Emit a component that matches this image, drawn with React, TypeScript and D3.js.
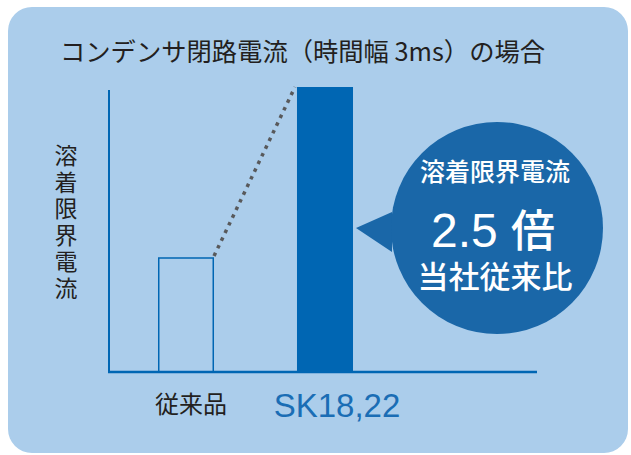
import React from "react";
import * as d3 from "d3";

const categories = ["従来品", "SK18,22"];
const values = [1, 2.5];
const title = "コンデンサ閉路電流（時間幅 3ms）の場合";
const yLabel = "溶着限界電流";
const calloutLines = ["溶着限界電流", "2.5", "倍", "当社従来比"];

const W = 631;
const H = 455;
const BLUE = "#0066b3";
const CJK = "'Noto Sans CJK JP', 'Noto Sans', sans-serif";
const LATIN = "'Liberation Sans', Arial, sans-serif";

export default function App() {
  const x = d3.scaleBand<string>().domain(categories).range([116.3, 394.7]).paddingInner(0.597).paddingOuter(0.3);
  const y = d3.scaleLinear().domain([0, 2.5]).range([372, 87]);
  const bw = x.bandwidth();
  const x0 = x(categories[0])!;
  const x1 = x(categories[1])!;
  const labelOffsets = [5, 12];
  const cx = 497, cy = 228, r = 106;
  return (
    <svg width={W} height={H} style={{ position: "absolute", left: 0, top: 0 }}>
      <rect x={8} y={7} width={620} height={446} rx={24} fill="#abcdeb" />
      <text x={60} y={61} fontFamily={CJK} fontSize={25.3} fill="#231f20">{title}</text>
      <text x={66} y={144} style={{ writingMode: "vertical-rl" }} fontFamily={CJK} fontSize={23} letterSpacing={3.5} fill="#231f20">{yLabel}</text>
      {/* axes */}
      <line x1={109} y1={90} x2={109} y2={372} stroke={BLUE} strokeWidth={2} />
      <line x1={108} y1={372} x2={537} y2={372} stroke={BLUE} strokeWidth={2.5} />
      {/* bars */}
      <rect x={x0 + 0.75} y={y(values[0])} width={bw - 1.5} height={y(0) - y(values[0])} fill="none" stroke={BLUE} strokeWidth={1.5} />
      <rect x={x1} y={y(values[1])} width={bw} height={y(0) - y(values[1])} fill={BLUE} />
      <line x1={x0 + bw} y1={y(values[0]) - 2} x2={x1 - 2} y2={y(values[1])} stroke="#58595b" strokeWidth={3.5} strokeDasharray="3.5 5" />
      {/* category labels */}
      <text x={x0 + bw / 2 + labelOffsets[0]} y={413} textAnchor="middle" fontFamily={CJK} fontSize={24} fill="#231f20">{categories[0]}</text>
      <text x={x1 + bw / 2 + labelOffsets[1]} y={417} textAnchor="middle" fontFamily={LATIN} fontSize={33} fill="#1a6db5">{categories[1]}</text>
      {/* callout */}
      <path d={`M356,228 L392,212 L392,252 Z`} fill="#1a67a8" />
      <circle cx={cx} cy={cy} r={r} fill="#1a67a8" />
      <text x={cx - 2} y={181} textAnchor="middle" fontFamily={CJK} fontSize={25} fontWeight={500} fill="#fff">{calloutLines[0]}</text>
      <text x={cx - 4} y={247} textAnchor="middle" fill="#fff">
        <tspan fontFamily={LATIN} fontSize={48}>{calloutLines[1]} </tspan>
        <tspan fontFamily={CJK} fontSize={44} fontWeight={500}>{calloutLines[2]}</tspan>
      </text>
      <text x={cx - 2} y={288} textAnchor="middle" fontFamily={CJK} fontSize={31} fontWeight={500} fill="#fff">{calloutLines[3]}</text>
    </svg>
  );
}
